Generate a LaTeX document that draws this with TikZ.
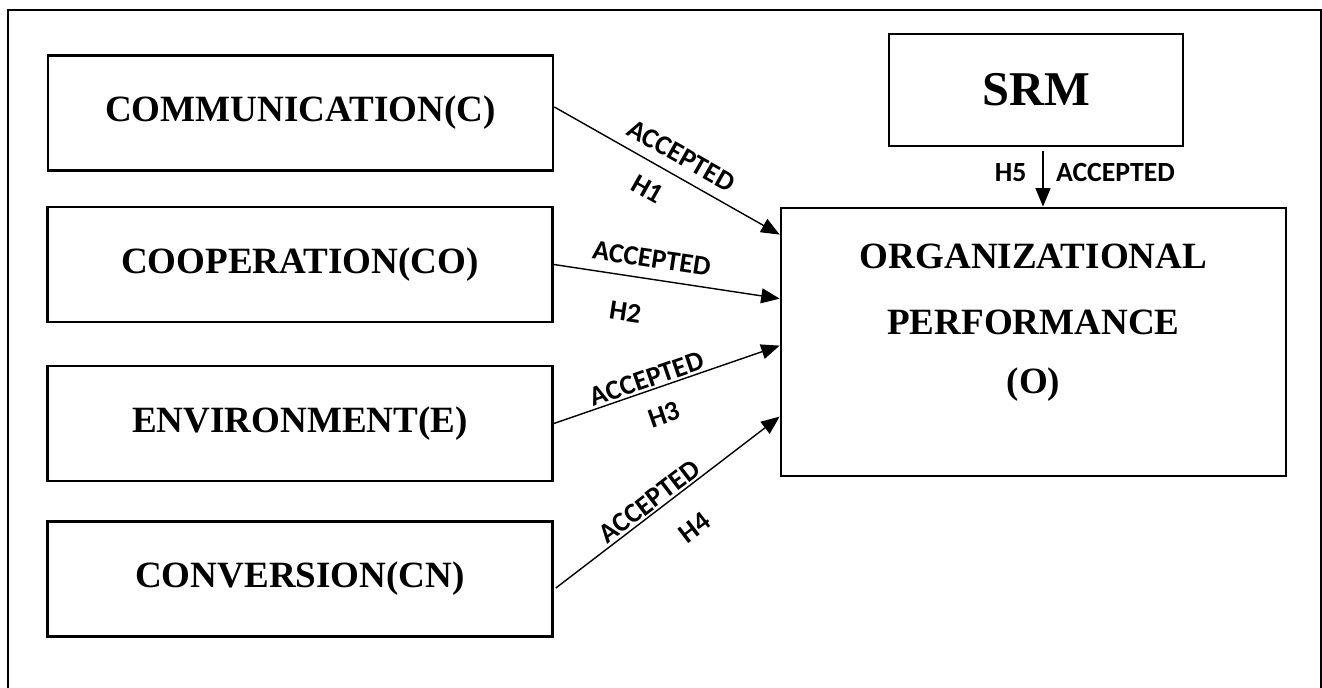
\documentclass[tikz,border=0pt]{standalone}
\usepackage{fontspec}
\setmainfont{Liberation Serif}
\newfontfamily\hypfont{Carlito}
\usetikzlibrary{calc,arrows.meta}
\newcommand{\boxfont}{\fontsize{21.1}{25}\selectfont\bfseries}
\newcommand{\hypsize}{\fontsize{15.8}{18}\selectfont\hypfont\bfseries}

\begin{document}
\begin{tikzpicture}[x=0.02cm, y=-0.02cm,
  factor/.style={draw, line width=1.6pt, minimum width=10.1cm, minimum height=2.3cm, font=\boxfont},
  arr/.style={-{Triangle[length=10.5pt,width=8.5pt]}, line width=0.8pt},
  hyp/.style={font=\hypsize, sloped, inner sep=1pt}]
  \useasboundingbox (0,0) rectangle (1322,688);
  \draw[line width=1.6pt] (8,700) -- (8,10) -- (1321,10) -- (1321,700);
  \node (comm) [factor] at (300.5,113) {COMMUNICATION(C)};
  \node (coop) [factor] at (300,264.5) {COOPERATION(CO)};
  \node (env)  [factor] at (300,423.5) {ENVIRONMENT(E)};
  \node (conv) [factor] at (300,579) {CONVERSION(CN)};
  \node (srm)  [factor, minimum width=5.88cm, minimum height=2.24cm, font=\fontsize{27.6}{30}\selectfont\bfseries] at (1036,90) {SRM};
  \node (perf) [factor, minimum height=5.36cm,
    label={[name=perftext, align=center, font=\boxfont, yshift=11pt]center:ORGANIZATIONAL\\[13pt]PERFORMANCE\\[8.5pt](O)}] at (1033.5,342) {};
  \coordinate (h5top) at ($(srm.south)+(7,4)$);
  \draw[arr] ($(comm.east)+(0,-6)$) -- node[hyp, pos=.52, above=5pt] {ACCEPTED} node[hyp, pos=.47, below=8pt] {H1} ($(perf.north west)+(0,28)$);
  \draw[arr] (coop.east) -- node[hyp, pos=.42, above=5pt] {ACCEPTED} node[hyp, pos=.34, below=14pt] {H2} ($(perf.north west)+(0,92)$);
  \draw[arr] (env.east) -- node[hyp, pos=.43, above=0pt] {ACCEPTED} node[hyp, pos=.45, below=9pt] {H3} ($(perf.north west)+(0,139)$);
  \draw[arr] ($(conv.east)+(2,9)$) -- node[hyp, pos=.45, above=0pt] {ACCEPTED} node[hyp, pos=.52, below=14pt] {H4} ($(perf.north west)+(0,210)$);
  \draw[arr] (h5top) -- node[hyp, sloped=false, pos=.38, left=8pt] {H5} node[hyp, sloped=false, pos=.38, right=6pt] {ACCEPTED} (h5top |- perf.north);
\end{tikzpicture}
\end{document}
